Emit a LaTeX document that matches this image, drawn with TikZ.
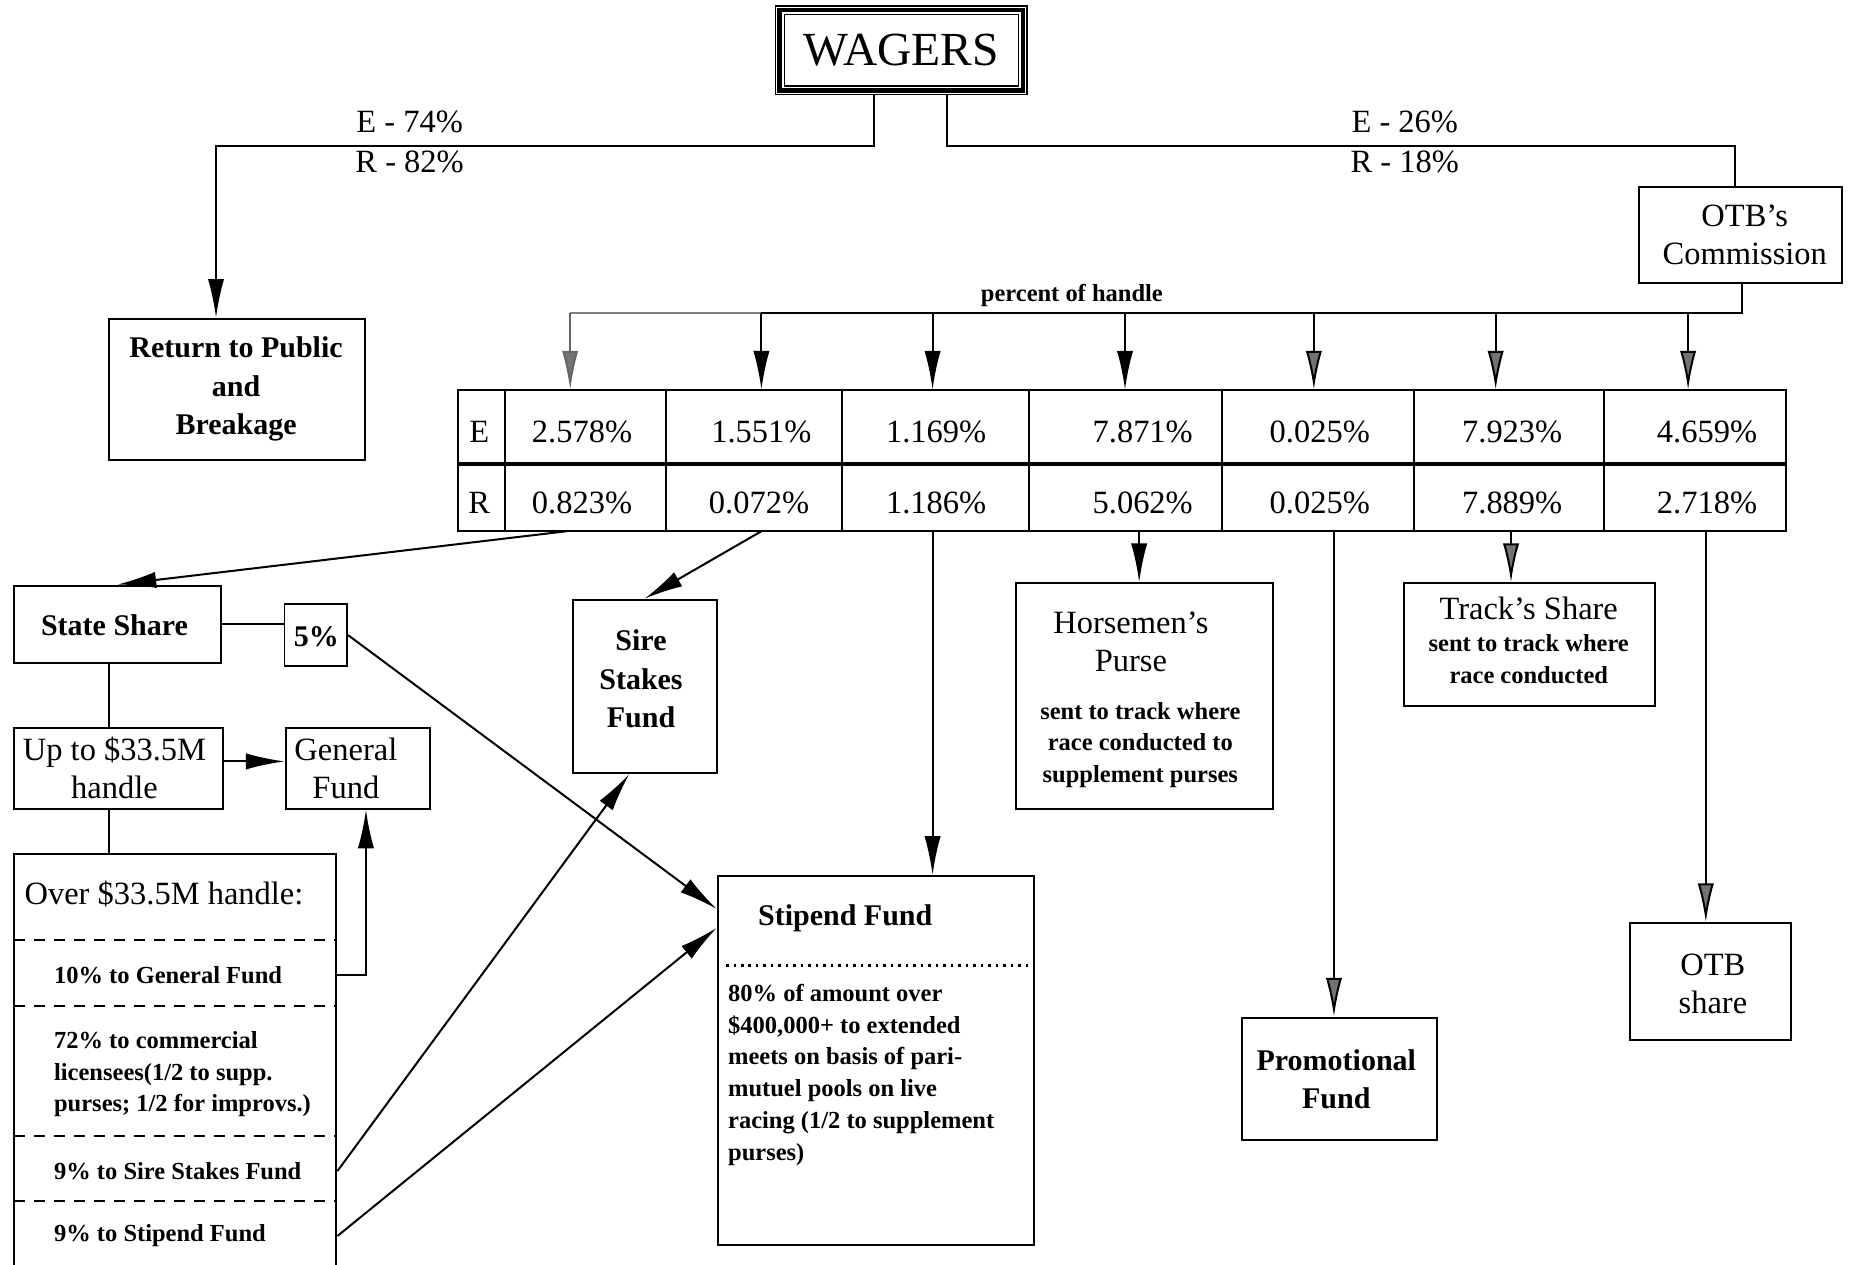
\documentclass[tikz,border=0pt]{standalone}
\usepackage{fontspec}
\setmainfont{Liberation Serif}
\usetikzlibrary{arrows.meta,fit}

\tikzset{
  box/.style={draw, line width=0.8pt, inner sep=0pt},
  flow/.style={-{Latex[length=15.5pt,width=6.5pt]}},
  greyflow/.style={-{Latex[length=15.5pt,width=6.5pt,fill=black!55]}},
  big/.style={font=\fontsize{13}{15.3}\selectfont, align=center, inner sep=0pt},
  heavy/.style={font=\bfseries\fontsize{12}{15.3}\selectfont, align=center, inner sep=0pt},
  small/.style={font=\bfseries\fontsize{9.8}{12.7}\selectfont, inner sep=0pt},
}

\begin{document}
\begin{tikzpicture}[x=0.0166cm, y=-0.0166cm, line width=0.8pt]
\useasboundingbox (0,0) rectangle (1568,1071);
\clip (0,0) rectangle (1568,1071);

% Wagers
\node[box, line width=0.6pt, fit={(657,5) (870,80)}] (wagers) {};
\draw[line width=1.8pt] ([shift={(4,4)}]wagers.north west) rectangle ([shift={(-4,-4)}]wagers.south east);
\draw[line width=0.6pt] ([shift={(8,8)}]wagers.north west) rectangle ([shift={(-8,-8)}]wagers.south east);
\node[font=\fontsize{19}{22}\selectfont] (wtext) at (wagers) {WAGERS};

\coordinate (wl) at (740,124);
\coordinate (wr) at (802,124);
\coordinate (splitL) at (183,124);
\coordinate (splitR) at (1470,124);

\node[box, fit={(92,270) (309,390)}] (ret) {};
\node[heavy] (rettext) at (200,329.5) {Return to Public\\and\\Breakage};
\node[box, fit={(1388,158) (1560,240)}] (otbc) {};
\node[big] (otbctext) at (1478,199) {OTB's\\Commission};

\draw[flow] (wagers.south -| wl) -- (wl) -- (splitL) -- (ret.north -| splitL);
\draw (wagers.south -| wr) -- (wr) -- (splitR) -- (otbc.north -| splitR);
\node[big] (el) at (347,103) {E - 74\%};
\node[big] (rl) at (347,137) {R - 82\%};
\node[big] (er) at (1190,103) {E - 26\%};
\node[big] (rr) at (1190,137) {R - 18\%};

% percent of handle
\coordinate (bus) at (1476,265);
\foreach \x [count=\i] in {483,645,790,953,1113,1267,1430}
  \coordinate (top\i) at (\x,330);
\foreach \x [count=\i] in {480,645,790,965,1130,1280,1445}
  \coordinate (bot\i) at (\x,450);
\node[small] (pctlabel) at (908,250) {percent of handle};
\draw (otbc.south -| bus) -- (bus) -- (bus -| top2);
\draw[gray] (bus -| top2) -- (bus -| top1);
\draw[greyflow, gray!80!black] (bus -| top1) -- (top1);
\foreach \i/\s in {2/flow,3/flow,4/flow,5/greyflow,6/greyflow,7/greyflow}
  \draw[\s] (bus -| top\i) -- (top\i);

% table
\node[box, fit={(388,330) (1513,450)}] (tbl) {};
\foreach \x in {428,564,713,872,1035,1198,1359}
  \draw (\x,330) -- (\x,450);
\draw[line width=1.3pt] (388,393) -- (1513,393);
\node[big] (le) at (406,366) {E};
\node[big] (lr) at (406,426) {R};
\foreach \v/\x [count=\i] in {2.578/493,1.551/645,1.169/793,7.871/968,0.025/1118,7.923/1281,4.659/1446}
  \node[big] (e\i) at (\x,366) {\v\%};
\foreach \v/\x [count=\i] in {0.823/493,0.072/643,1.186/793,5.062/968,0.025/1118,7.889/1281,2.718/1446}
  \node[big] (r\i) at (\x,426) {\v\%};

% state side
\node[box, fit={(12,496) (187,562)}] (state) {};
\node[heavy] (statetext) at (97,530) {State Share};
\node[box, fit={(241,512) (294,564)}] (pct) {};
\node[heavy] (pcttext) at (268,539) {5\%};
\node[box, fit={(485,508) (607,655)}] (sire) {};
\node[heavy] (siretext) at (543,575) {Sire\\Stakes\\Fund};
\node[box, fit={(12,617) (189,685)}] (upto) {};
\node[big] (uptotext) at (97,650.5) {Up to \$33.5M\\handle};
\node[box, fit={(242,617) (364,685)}] (gen) {};
\node[big] (gentext) at (293,651) {General\\Fund};

% over 33.5M
\node[box, fit={(12,723) (285,1100)}] (over) {};
\node[big, anchor=west] (overhead) at (20,757) {Over \$33.5M handle:};
\foreach \y in {796,852,962,1017}
  \draw[dash pattern=on 4.5pt off 3.5pt] (12,\y) -- (285,\y);
\node[small, anchor=west] (s10) at (45,826) {10\% to General Fund};
\node[small, anchor=west, align=left] (s72) at (45,910) {72\% to commercial\\licensees(1/2 to supp.\\purses; 1/2 for improvs.)};
\node[small, anchor=west] (s9a) at (45,992) {9\% to Sire Stakes Fund};
\node[small, anchor=west] (s9b) at (45,1047) {9\% to Stipend Fund};

% stipend
\node[box, fit={(608,742) (876,1055)}] (stipend) {};
\node[heavy] (stiptext) at (716,778) {Stipend Fund};
\draw[dotted, line width=1pt] (615,818) -- (872,818);
\node[small, anchor=west, align=left] (stipnote) at (616,910.5) {80\% of amount over\\\$400,000+ to extended\\meets on basis of pari-\\mutuel pools on live\\racing (1/2 to supplement\\purses)};

% horsemen, track
\node[box, fit={(861,494) (1078,685)}] (horse) {};
\node[big] (horsetext) at (958,544) {Horsemen's\\Purse};
\node[small, align=center] (horsenote) at (966,631) {sent to track where\\race conducted to\\supplement purses};
\node[box, fit={(1189,494) (1402,598)}] (track) {};
\node[big] (tracktext) at (1295,515) {Track's Share};
\node[small, align=center] (tracknote) at (1295,558.5) {sent to track where\\race conducted};

\node[box, fit={(1052,862) (1217,966)}] (promo) {};
\node[heavy] (promotext) at (1132,914) {Promotional\\Fund};
\node[box, fit={(1381,782) (1517,881)}] (otbs) {};
\node[big] (otbstext) at (1451,833.5) {OTB\\share};

% connectors
\coordinate (vx) at (92,0);
\coordinate (ug) at (0,645);
\coordinate (gx) at (310,826);
\coordinate (sx) at (533,992);
\coordinate (tx) at (0,1047);
\coordinate (in1) at (0,770);
\coordinate (in2) at (0,786);
\draw (state.south -| vx) -- (upto.north -| vx);
\draw (upto.south -| vx) -- (over.north -| vx);
\draw (state.east) -- (state.east -| pct.west);
\draw[flow] (upto.east |- ug) -- (gen.west |- ug);
\draw[flow] (over.east |- gx) -| (gen.south -| gx);
\draw[flow] (over.east |- sx) -- (sire.south -| sx);
\draw[flow] (over.east |- tx) -- (stipend.west |- in2);
\draw[flow] (pct.east) -- (stipend.west |- in1);

\draw[flow] (bot1) -- (state.north);
\draw[flow] (bot2) -- (sire.north);
\draw[flow] (bot3) -- (stipend.north -| bot3);
\draw[flow] (bot4) -- (horse.north -| bot4);
\draw[greyflow] (bot5) -- (promo.north -| bot5);
\draw[greyflow] (bot6) -- (track.north -| bot6);
\draw[greyflow] (bot7) -- (otbs.north -| bot7);
\end{tikzpicture}
\end{document}
